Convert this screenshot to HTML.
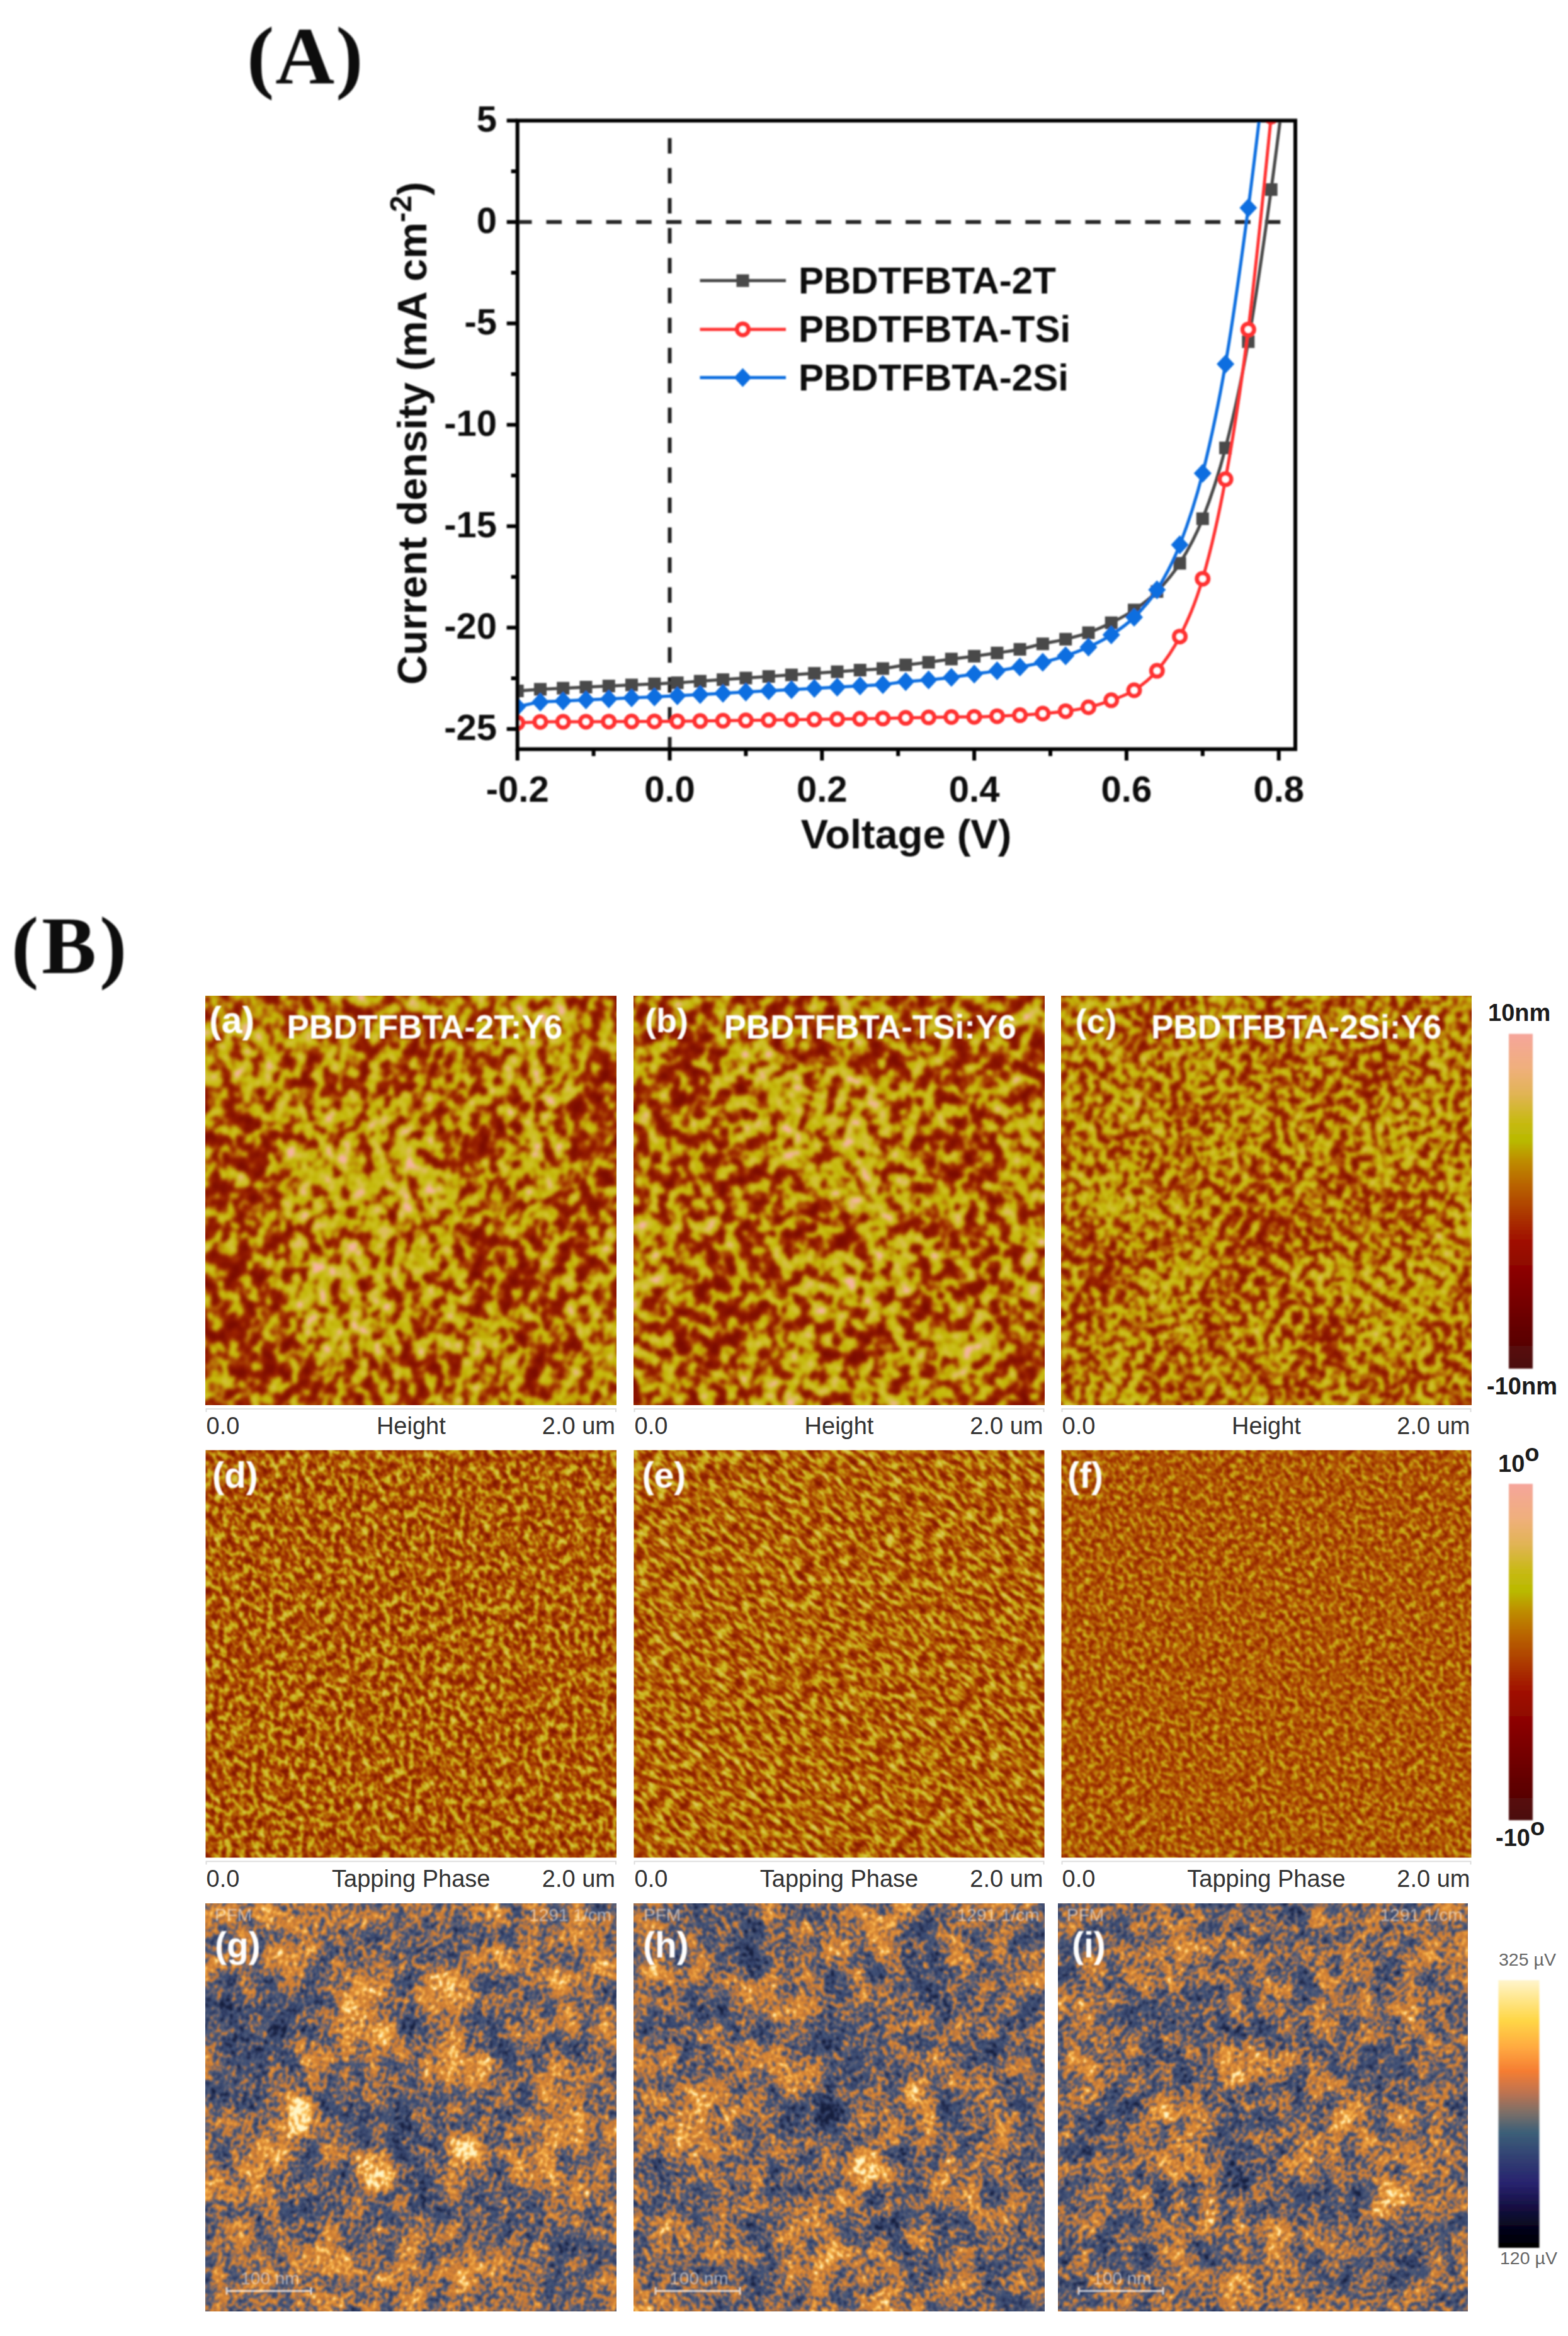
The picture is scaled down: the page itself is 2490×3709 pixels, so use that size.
<!DOCTYPE html>
<html lang="en"><head><meta charset="utf-8"><title>Figure</title>
<style>
html,body{margin:0;padding:0;background:#fff}
body{width:2490px;height:3709px;overflow:hidden}
svg{display:block}
</style></head><body>
<svg width="2490" height="3709" viewBox="0 0 2490 3709">
<defs>
<filter id="bl" x="-50%" y="-50%" width="200%" height="200%"><feGaussianBlur stdDeviation="24"/></filter>
<filter id="tb" filterUnits="userSpaceOnUse" x="300" y="1570" width="2100" height="1600"><feGaussianBlur stdDeviation="1.3"/></filter>
<filter id="cbb" filterUnits="userSpaceOnUse" x="2360" y="1600" width="120" height="2020"><feGaussianBlur stdDeviation="1.2"/></filter>
<filter id="chb" filterUnits="userSpaceOnUse" x="580" y="120" width="1560" height="1280"><feGaussianBlur stdDeviation="0.8"/></filter>
<filter id="lbb" filterUnits="userSpaceOnUse" x="0" y="0" width="700" height="1620"><feGaussianBlur stdDeviation="0.8"/></filter>
<filter id="tb2" filterUnits="userSpaceOnUse" x="300" y="3000" width="2100" height="700"><feGaussianBlur stdDeviation="1.2"/></filter>
<filter id="bs" x="-50%" y="-50%" width="200%" height="200%"><feGaussianBlur stdDeviation="10"/></filter>
<filter id="fa" filterUnits="userSpaceOnUse" x="183.0" y="1436.5" width="939.6" height="939.6" color-interpolation-filters="sRGB"><feColorMatrix in="SourceGraphic" type="matrix" values="0.8 0 0 0 0.1  0.8 0 0 0 0.1  0.8 0 0 0 0.1  0 0 0 0 1" result="acc"/><feTurbulence type="fractalNoise" baseFrequency="0.05 0.045" numOctaves="2" seed="3"/><feColorMatrix type="matrix" values="1 0 0 0 0  1 0 0 0 0  1 0 0 0 0  0 0 0 0 1" result="t"/><feComposite in="acc" in2="t" operator="arithmetic" k1="0" k2="1" k3="1.5" k4="-0.75" result="acc"/><feTurbulence type="fractalNoise" baseFrequency="0.012" numOctaves="2" seed="4"/><feColorMatrix type="matrix" values="1 0 0 0 0  1 0 0 0 0  1 0 0 0 0  0 0 0 0 1" result="t"/><feComposite in="acc" in2="t" operator="arithmetic" k1="0" k2="1" k3="0.35" k4="-0.175" result="acc"/><feComponentTransfer><feFuncR type="table" tableValues="0.490 0.498 0.505 0.513 0.520 0.527 0.535 0.542 0.550 0.557 0.565 0.575 0.586 0.597 0.607 0.624 0.643 0.663 0.682 0.702 0.722 0.739 0.745 0.752 0.758 0.765 0.772 0.779 0.786 0.794 0.801 0.808 0.816 0.823 0.833 0.847 0.861 0.876 0.903 0.934 0.965"/><feFuncG type="table" tableValues="0.047 0.052 0.056 0.061 0.066 0.071 0.075 0.080 0.085 0.089 0.094 0.105 0.116 0.126 0.137 0.169 0.216 0.262 0.318 0.386 0.455 0.521 0.578 0.634 0.691 0.718 0.725 0.732 0.739 0.745 0.747 0.749 0.750 0.752 0.751 0.747 0.742 0.738 0.728 0.717 0.706"/><feFuncB type="table" tableValues="0.000 0.000 0.000 0.000 0.000 0.000 0.000 0.000 0.000 0.000 0.000 0.000 0.000 0.000 0.000 0.004 0.010 0.016 0.022 0.028 0.034 0.038 0.034 0.030 0.025 0.033 0.049 0.065 0.081 0.100 0.127 0.155 0.183 0.211 0.246 0.292 0.337 0.383 0.459 0.543 0.627"/></feComponentTransfer><feGaussianBlur stdDeviation="2.6"/></filter>
<clipPath id="ca"><rect x="326.5" y="1581.5" width="652.5" height="649.5"/></clipPath>
<filter id="fb" filterUnits="userSpaceOnUse" x="863.1" y="1436.8" width="938.9" height="938.9" color-interpolation-filters="sRGB"><feColorMatrix in="SourceGraphic" type="matrix" values="0.8 0 0 0 0.1  0.8 0 0 0 0.1  0.8 0 0 0 0.1  0 0 0 0 1" result="acc"/><feTurbulence type="fractalNoise" baseFrequency="0.05 0.045" numOctaves="2" seed="11"/><feColorMatrix type="matrix" values="1 0 0 0 0  1 0 0 0 0  1 0 0 0 0  0 0 0 0 1" result="t"/><feComposite in="acc" in2="t" operator="arithmetic" k1="0" k2="1" k3="1.5" k4="-0.75" result="acc"/><feTurbulence type="fractalNoise" baseFrequency="0.012" numOctaves="2" seed="12"/><feColorMatrix type="matrix" values="1 0 0 0 0  1 0 0 0 0  1 0 0 0 0  0 0 0 0 1" result="t"/><feComposite in="acc" in2="t" operator="arithmetic" k1="0" k2="1" k3="0.35" k4="-0.175" result="acc"/><feComponentTransfer><feFuncR type="table" tableValues="0.490 0.498 0.505 0.513 0.520 0.527 0.535 0.542 0.550 0.557 0.565 0.575 0.586 0.597 0.607 0.624 0.643 0.663 0.682 0.702 0.722 0.739 0.745 0.752 0.758 0.765 0.772 0.779 0.786 0.794 0.801 0.808 0.816 0.823 0.833 0.847 0.861 0.876 0.903 0.934 0.965"/><feFuncG type="table" tableValues="0.047 0.052 0.056 0.061 0.066 0.071 0.075 0.080 0.085 0.089 0.094 0.105 0.116 0.126 0.137 0.169 0.216 0.262 0.318 0.386 0.455 0.521 0.578 0.634 0.691 0.718 0.725 0.732 0.739 0.745 0.747 0.749 0.750 0.752 0.751 0.747 0.742 0.738 0.728 0.717 0.706"/><feFuncB type="table" tableValues="0.000 0.000 0.000 0.000 0.000 0.000 0.000 0.000 0.000 0.000 0.000 0.000 0.000 0.000 0.000 0.004 0.010 0.016 0.022 0.028 0.034 0.038 0.034 0.030 0.025 0.033 0.049 0.065 0.081 0.100 0.127 0.155 0.183 0.211 0.246 0.292 0.337 0.383 0.459 0.543 0.627"/></feComponentTransfer><feGaussianBlur stdDeviation="2.6"/></filter>
<clipPath id="cb"><rect x="1006.5" y="1581.5" width="652.0" height="649.5"/></clipPath>
<filter id="fc" filterUnits="userSpaceOnUse" x="1542.3" y="1437.5" width="937.4" height="937.4" color-interpolation-filters="sRGB"><feColorMatrix in="SourceGraphic" type="matrix" values="0.8 0 0 0 0.1  0.8 0 0 0 0.1  0.8 0 0 0 0.1  0 0 0 0 1" result="acc"/><feTurbulence type="fractalNoise" baseFrequency="0.075 0.07" numOctaves="2" seed="23"/><feColorMatrix type="matrix" values="1 0 0 0 0  1 0 0 0 0  1 0 0 0 0  0 0 0 0 1" result="t"/><feComposite in="acc" in2="t" operator="arithmetic" k1="0" k2="1" k3="1.15" k4="-0.575" result="acc"/><feTurbulence type="fractalNoise" baseFrequency="0.012" numOctaves="2" seed="24"/><feColorMatrix type="matrix" values="1 0 0 0 0  1 0 0 0 0  1 0 0 0 0  0 0 0 0 1" result="t"/><feComposite in="acc" in2="t" operator="arithmetic" k1="0" k2="1" k3="0.35" k4="-0.175" result="acc"/><feComponentTransfer><feFuncR type="table" tableValues="0.490 0.498 0.505 0.513 0.520 0.527 0.535 0.542 0.550 0.557 0.565 0.575 0.586 0.597 0.607 0.624 0.643 0.663 0.682 0.702 0.722 0.739 0.745 0.752 0.758 0.765 0.772 0.779 0.786 0.794 0.801 0.808 0.816 0.823 0.833 0.847 0.861 0.876 0.903 0.934 0.965"/><feFuncG type="table" tableValues="0.047 0.052 0.056 0.061 0.066 0.071 0.075 0.080 0.085 0.089 0.094 0.105 0.116 0.126 0.137 0.169 0.216 0.262 0.318 0.386 0.455 0.521 0.578 0.634 0.691 0.718 0.725 0.732 0.739 0.745 0.747 0.749 0.750 0.752 0.751 0.747 0.742 0.738 0.728 0.717 0.706"/><feFuncB type="table" tableValues="0.000 0.000 0.000 0.000 0.000 0.000 0.000 0.000 0.000 0.000 0.000 0.000 0.000 0.000 0.000 0.004 0.010 0.016 0.022 0.028 0.034 0.038 0.034 0.030 0.025 0.033 0.049 0.065 0.081 0.100 0.127 0.155 0.183 0.211 0.246 0.292 0.337 0.383 0.459 0.543 0.627"/></feComponentTransfer><feGaussianBlur stdDeviation="2.6"/></filter>
<clipPath id="cc"><rect x="1685.5" y="1581.5" width="651.0" height="649.5"/></clipPath>
<filter id="fd" filterUnits="userSpaceOnUse" x="183.0" y="2156.2" width="939.6" height="939.6" color-interpolation-filters="sRGB"><feColorMatrix in="SourceGraphic" type="matrix" values="1 0 0 0 0  1 0 0 0 0  1 0 0 0 0  0 0 0 0 1" result="acc"/><feTurbulence type="fractalNoise" baseFrequency="0.11 0.075" numOctaves="3" seed="5"/><feColorMatrix type="matrix" values="1 0 0 0 0  1 0 0 0 0  1 0 0 0 0  0 0 0 0 1" result="t"/><feComposite in="acc" in2="t" operator="arithmetic" k1="0" k2="1" k3="1.7" k4="-0.85" result="acc"/><feComponentTransfer><feFuncR type="table" tableValues="0.510 0.518 0.527 0.535 0.544 0.552 0.561 0.569 0.578 0.586 0.595 0.603 0.612 0.622 0.631 0.641 0.651 0.661 0.671 0.680 0.690 0.702 0.714 0.725 0.737 0.746 0.755 0.764 0.773 0.778 0.784 0.790 0.796 0.800 0.804 0.808 0.812 0.819 0.833 0.848 0.863"/><feFuncG type="table" tableValues="0.086 0.093 0.101 0.108 0.115 0.122 0.129 0.137 0.144 0.151 0.158 0.165 0.173 0.191 0.210 0.228 0.247 0.266 0.284 0.303 0.322 0.359 0.396 0.433 0.471 0.506 0.541 0.576 0.612 0.635 0.659 0.682 0.706 0.714 0.722 0.730 0.739 0.748 0.760 0.772 0.784"/><feFuncB type="table" tableValues="0.000 0.000 0.000 0.000 0.000 0.000 0.000 0.000 0.000 0.000 0.000 0.000 0.000 0.002 0.004 0.006 0.008 0.010 0.012 0.014 0.016 0.022 0.027 0.033 0.039 0.047 0.055 0.063 0.071 0.080 0.090 0.100 0.110 0.124 0.138 0.151 0.165 0.188 0.243 0.298 0.353"/></feComponentTransfer><feGaussianBlur stdDeviation="1.7"/></filter>
<clipPath id="cd"><rect x="326.5" y="2302.5" width="652.5" height="647.0"/></clipPath>
<filter id="fe" filterUnits="userSpaceOnUse" x="863.1" y="2156.6" width="938.9" height="938.9" color-interpolation-filters="sRGB"><feColorMatrix in="SourceGraphic" type="matrix" values="1 0 0 0 0.03  1 0 0 0 0.03  1 0 0 0 0.03  0 0 0 0 1" result="acc"/><feTurbulence type="fractalNoise" baseFrequency="0.13 0.055" numOctaves="3" seed="8"/><feColorMatrix type="matrix" values="1 0 0 0 0  1 0 0 0 0  1 0 0 0 0  0 0 0 0 1" result="t"/><feComposite in="acc" in2="t" operator="arithmetic" k1="0" k2="1" k3="1.7" k4="-0.85" result="acc"/><feComponentTransfer><feFuncR type="table" tableValues="0.510 0.518 0.527 0.535 0.544 0.552 0.561 0.569 0.578 0.586 0.595 0.603 0.612 0.622 0.631 0.641 0.651 0.661 0.671 0.680 0.690 0.702 0.714 0.725 0.737 0.746 0.755 0.764 0.773 0.778 0.784 0.790 0.796 0.800 0.804 0.808 0.812 0.819 0.833 0.848 0.863"/><feFuncG type="table" tableValues="0.086 0.093 0.101 0.108 0.115 0.122 0.129 0.137 0.144 0.151 0.158 0.165 0.173 0.191 0.210 0.228 0.247 0.266 0.284 0.303 0.322 0.359 0.396 0.433 0.471 0.506 0.541 0.576 0.612 0.635 0.659 0.682 0.706 0.714 0.722 0.730 0.739 0.748 0.760 0.772 0.784"/><feFuncB type="table" tableValues="0.000 0.000 0.000 0.000 0.000 0.000 0.000 0.000 0.000 0.000 0.000 0.000 0.000 0.002 0.004 0.006 0.008 0.010 0.012 0.014 0.016 0.022 0.027 0.033 0.039 0.047 0.055 0.063 0.071 0.080 0.090 0.100 0.110 0.124 0.138 0.151 0.165 0.188 0.243 0.298 0.353"/></feComponentTransfer><feGaussianBlur stdDeviation="1.7"/></filter>
<clipPath id="ce"><rect x="1006.5" y="2302.5" width="652.0" height="647.0"/></clipPath>
<filter id="ff" filterUnits="userSpaceOnUse" x="1542.3" y="2157.3" width="937.4" height="937.4" color-interpolation-filters="sRGB"><feColorMatrix in="SourceGraphic" type="matrix" values="1 0 0 0 0  1 0 0 0 0  1 0 0 0 0  0 0 0 0 1" result="acc"/><feTurbulence type="fractalNoise" baseFrequency="0.14 0.1" numOctaves="3" seed="14"/><feColorMatrix type="matrix" values="1 0 0 0 0  1 0 0 0 0  1 0 0 0 0  0 0 0 0 1" result="t"/><feComposite in="acc" in2="t" operator="arithmetic" k1="0" k2="1" k3="1.15" k4="-0.575" result="acc"/><feComponentTransfer><feFuncR type="table" tableValues="0.510 0.518 0.527 0.535 0.544 0.552 0.561 0.569 0.578 0.586 0.595 0.603 0.612 0.622 0.631 0.641 0.651 0.661 0.671 0.680 0.690 0.702 0.714 0.725 0.737 0.746 0.755 0.764 0.773 0.778 0.784 0.790 0.796 0.800 0.804 0.808 0.812 0.819 0.833 0.848 0.863"/><feFuncG type="table" tableValues="0.086 0.093 0.101 0.108 0.115 0.122 0.129 0.137 0.144 0.151 0.158 0.165 0.173 0.191 0.210 0.228 0.247 0.266 0.284 0.303 0.322 0.359 0.396 0.433 0.471 0.506 0.541 0.576 0.612 0.635 0.659 0.682 0.706 0.714 0.722 0.730 0.739 0.748 0.760 0.772 0.784"/><feFuncB type="table" tableValues="0.000 0.000 0.000 0.000 0.000 0.000 0.000 0.000 0.000 0.000 0.000 0.000 0.000 0.002 0.004 0.006 0.008 0.010 0.012 0.014 0.016 0.022 0.027 0.033 0.039 0.047 0.055 0.063 0.071 0.080 0.090 0.100 0.110 0.124 0.138 0.151 0.165 0.188 0.243 0.298 0.353"/></feComponentTransfer><feGaussianBlur stdDeviation="1.7"/></filter>
<clipPath id="cf"><rect x="1685.5" y="2302.5" width="651.0" height="647.0"/></clipPath>
<filter id="fg" filterUnits="userSpaceOnUse" x="183.0" y="2876.2" width="939.6" height="939.6" color-interpolation-filters="sRGB"><feColorMatrix in="SourceGraphic" type="matrix" values="1 0 0 0 -0.025  1 0 0 0 -0.025  1 0 0 0 -0.025  0 0 0 0 1" result="acc"/><feTurbulence type="fractalNoise" baseFrequency="0.014" numOctaves="2" seed="31"/><feColorMatrix type="matrix" values="1 0 0 0 0  1 0 0 0 0  1 0 0 0 0  0 0 0 0 1" result="t"/><feComposite in="acc" in2="t" operator="arithmetic" k1="0" k2="1" k3="0.45" k4="-0.225" result="acc"/><feTurbulence type="fractalNoise" baseFrequency="0.03" numOctaves="2" seed="51"/><feColorMatrix type="matrix" values="1 0 0 0 0  1 0 0 0 0  1 0 0 0 0  0 0 0 0 1" result="t"/><feComposite in="acc" in2="t" operator="arithmetic" k1="0" k2="1" k3="0.75" k4="-0.375" result="acc"/><feTurbulence type="fractalNoise" baseFrequency="0.14 0.12" numOctaves="2" seed="81"/><feColorMatrix type="matrix" values="1 0 0 0 0  1 0 0 0 0  1 0 0 0 0  0 0 0 0 1" result="t"/><feComposite in="acc" in2="t" operator="arithmetic" k1="0" k2="1" k3="0.95" k4="-0.475" result="acc"/><feComponentTransfer><feFuncR type="table" tableValues="0.086 0.101 0.116 0.130 0.145 0.160 0.175 0.189 0.204 0.215 0.226 0.237 0.247 0.258 0.269 0.280 0.328 0.384 0.441 0.502 0.580 0.659 0.737 0.778 0.794 0.810 0.826 0.842 0.858 0.875 0.896 0.917 0.938 0.959 0.980 0.990 0.993 0.996 0.999 1.000 1.000"/><feFuncG type="table" tableValues="0.118 0.135 0.153 0.171 0.188 0.206 0.224 0.241 0.259 0.271 0.283 0.295 0.307 0.319 0.331 0.343 0.361 0.380 0.400 0.418 0.431 0.444 0.458 0.471 0.484 0.498 0.511 0.525 0.538 0.555 0.588 0.620 0.652 0.684 0.717 0.756 0.802 0.847 0.892 0.929 0.961"/><feFuncB type="table" tableValues="0.243 0.265 0.286 0.308 0.329 0.351 0.373 0.394 0.416 0.424 0.433 0.442 0.451 0.459 0.468 0.477 0.464 0.447 0.430 0.404 0.345 0.286 0.227 0.205 0.206 0.207 0.208 0.210 0.211 0.215 0.232 0.249 0.266 0.282 0.299 0.357 0.442 0.528 0.613 0.699 0.784"/></feComponentTransfer><feGaussianBlur stdDeviation="1.7"/></filter>
<clipPath id="cg"><rect x="326.5" y="3022.0" width="652.5" height="648.0"/></clipPath>
<filter id="fh" filterUnits="userSpaceOnUse" x="863.1" y="2876.6" width="938.9" height="938.9" color-interpolation-filters="sRGB"><feColorMatrix in="SourceGraphic" type="matrix" values="1 0 0 0 -0.025  1 0 0 0 -0.025  1 0 0 0 -0.025  0 0 0 0 1" result="acc"/><feTurbulence type="fractalNoise" baseFrequency="0.014" numOctaves="2" seed="38"/><feColorMatrix type="matrix" values="1 0 0 0 0  1 0 0 0 0  1 0 0 0 0  0 0 0 0 1" result="t"/><feComposite in="acc" in2="t" operator="arithmetic" k1="0" k2="1" k3="0.45" k4="-0.225" result="acc"/><feTurbulence type="fractalNoise" baseFrequency="0.03" numOctaves="2" seed="58"/><feColorMatrix type="matrix" values="1 0 0 0 0  1 0 0 0 0  1 0 0 0 0  0 0 0 0 1" result="t"/><feComposite in="acc" in2="t" operator="arithmetic" k1="0" k2="1" k3="0.75" k4="-0.375" result="acc"/><feTurbulence type="fractalNoise" baseFrequency="0.14 0.12" numOctaves="2" seed="88"/><feColorMatrix type="matrix" values="1 0 0 0 0  1 0 0 0 0  1 0 0 0 0  0 0 0 0 1" result="t"/><feComposite in="acc" in2="t" operator="arithmetic" k1="0" k2="1" k3="0.95" k4="-0.475" result="acc"/><feComponentTransfer><feFuncR type="table" tableValues="0.086 0.101 0.116 0.130 0.145 0.160 0.175 0.189 0.204 0.215 0.226 0.237 0.247 0.258 0.269 0.280 0.328 0.384 0.441 0.502 0.580 0.659 0.737 0.778 0.794 0.810 0.826 0.842 0.858 0.875 0.896 0.917 0.938 0.959 0.980 0.990 0.993 0.996 0.999 1.000 1.000"/><feFuncG type="table" tableValues="0.118 0.135 0.153 0.171 0.188 0.206 0.224 0.241 0.259 0.271 0.283 0.295 0.307 0.319 0.331 0.343 0.361 0.380 0.400 0.418 0.431 0.444 0.458 0.471 0.484 0.498 0.511 0.525 0.538 0.555 0.588 0.620 0.652 0.684 0.717 0.756 0.802 0.847 0.892 0.929 0.961"/><feFuncB type="table" tableValues="0.243 0.265 0.286 0.308 0.329 0.351 0.373 0.394 0.416 0.424 0.433 0.442 0.451 0.459 0.468 0.477 0.464 0.447 0.430 0.404 0.345 0.286 0.227 0.205 0.206 0.207 0.208 0.210 0.211 0.215 0.232 0.249 0.266 0.282 0.299 0.357 0.442 0.528 0.613 0.699 0.784"/></feComponentTransfer><feGaussianBlur stdDeviation="1.7"/></filter>
<clipPath id="ch"><rect x="1006.5" y="3022.0" width="652.0" height="648.0"/></clipPath>
<filter id="fi" filterUnits="userSpaceOnUse" x="1536.9" y="2877.6" width="936.7" height="936.7" color-interpolation-filters="sRGB"><feColorMatrix in="SourceGraphic" type="matrix" values="1 0 0 0 -0.025  1 0 0 0 -0.025  1 0 0 0 -0.025  0 0 0 0 1" result="acc"/><feTurbulence type="fractalNoise" baseFrequency="0.014" numOctaves="2" seed="45"/><feColorMatrix type="matrix" values="1 0 0 0 0  1 0 0 0 0  1 0 0 0 0  0 0 0 0 1" result="t"/><feComposite in="acc" in2="t" operator="arithmetic" k1="0" k2="1" k3="0.45" k4="-0.225" result="acc"/><feTurbulence type="fractalNoise" baseFrequency="0.03" numOctaves="2" seed="65"/><feColorMatrix type="matrix" values="1 0 0 0 0  1 0 0 0 0  1 0 0 0 0  0 0 0 0 1" result="t"/><feComposite in="acc" in2="t" operator="arithmetic" k1="0" k2="1" k3="0.75" k4="-0.375" result="acc"/><feTurbulence type="fractalNoise" baseFrequency="0.14 0.12" numOctaves="2" seed="95"/><feColorMatrix type="matrix" values="1 0 0 0 0  1 0 0 0 0  1 0 0 0 0  0 0 0 0 1" result="t"/><feComposite in="acc" in2="t" operator="arithmetic" k1="0" k2="1" k3="0.95" k4="-0.475" result="acc"/><feComponentTransfer><feFuncR type="table" tableValues="0.086 0.101 0.116 0.130 0.145 0.160 0.175 0.189 0.204 0.215 0.226 0.237 0.247 0.258 0.269 0.280 0.328 0.384 0.441 0.502 0.580 0.659 0.737 0.778 0.794 0.810 0.826 0.842 0.858 0.875 0.896 0.917 0.938 0.959 0.980 0.990 0.993 0.996 0.999 1.000 1.000"/><feFuncG type="table" tableValues="0.118 0.135 0.153 0.171 0.188 0.206 0.224 0.241 0.259 0.271 0.283 0.295 0.307 0.319 0.331 0.343 0.361 0.380 0.400 0.418 0.431 0.444 0.458 0.471 0.484 0.498 0.511 0.525 0.538 0.555 0.588 0.620 0.652 0.684 0.717 0.756 0.802 0.847 0.892 0.929 0.961"/><feFuncB type="table" tableValues="0.243 0.265 0.286 0.308 0.329 0.351 0.373 0.394 0.416 0.424 0.433 0.442 0.451 0.459 0.468 0.477 0.464 0.447 0.430 0.404 0.345 0.286 0.227 0.205 0.206 0.207 0.208 0.210 0.211 0.215 0.232 0.249 0.266 0.282 0.299 0.357 0.442 0.528 0.613 0.699 0.784"/></feComponentTransfer><feGaussianBlur stdDeviation="1.7"/></filter>
<clipPath id="ci"><rect x="1680.0" y="3022.0" width="650.5" height="648.0"/></clipPath>
<linearGradient id="g1" x1="0" y1="1" x2="0" y2="0"><stop offset="0.000" stop-color="rgb(75,10,10)"/><stop offset="0.100" stop-color="rgb(95,5,5)"/><stop offset="0.250" stop-color="rgb(130,0,0)"/><stop offset="0.380" stop-color="rgb(160,15,0)"/><stop offset="0.480" stop-color="rgb(175,65,5)"/><stop offset="0.550" stop-color="rgb(185,100,5)"/><stop offset="0.620" stop-color="rgb(190,140,0)"/><stop offset="0.680" stop-color="rgb(185,185,0)"/><stop offset="0.740" stop-color="rgb(200,185,20)"/><stop offset="0.820" stop-color="rgb(225,180,85)"/><stop offset="0.900" stop-color="rgb(240,175,125)"/><stop offset="1.000" stop-color="rgb(245,165,155)"/></linearGradient>
<linearGradient id="g3" x1="0" y1="1" x2="0" y2="0"><stop offset="0.000" stop-color="rgb(0,0,0)"/><stop offset="0.070" stop-color="rgb(5,5,25)"/><stop offset="0.150" stop-color="rgb(20,15,65)"/><stop offset="0.240" stop-color="rgb(40,35,110)"/><stop offset="0.340" stop-color="rgb(50,65,115)"/><stop offset="0.430" stop-color="rgb(60,95,120)"/><stop offset="0.500" stop-color="rgb(120,110,105)"/><stop offset="0.580" stop-color="rgb(190,115,80)"/><stop offset="0.660" stop-color="rgb(245,125,50)"/><stop offset="0.750" stop-color="rgb(255,170,65)"/><stop offset="0.850" stop-color="rgb(255,215,70)"/><stop offset="0.930" stop-color="rgb(255,230,140)"/><stop offset="1.000" stop-color="rgb(255,245,205)"/></linearGradient>
</defs>
<rect width="2490" height="3709" fill="#fff"/>
<g font-family="Liberation Serif, Times New Roman, serif" font-weight="bold" font-size="130" fill="#111" filter="url(#lbb)">
<text x="392" y="132" letter-spacing="2">(A)</text><text x="18" y="1545" letter-spacing="5">(B)</text></g>
<g id="chart" filter="url(#chb)">
<clipPath id="pc"><rect x="821.7" y="191.5" width="1235.3" height="998.0"/></clipPath>
<path d="M820 352.5 H2034 M1063.5 219.3 V1189.5" stroke="#222" stroke-width="6" stroke-dasharray="24.5 23.05" fill="none"/>
<g clip-path="url(#pc)">
<path d="M821.7 1097.0 C827.7 1096.5 845.9 1095.1 858.0 1094.4 C870.1 1093.7 882.1 1093.2 894.2 1092.7 C906.3 1092.1 918.4 1091.5 930.5 1091.0 C942.6 1090.4 954.7 1089.8 966.8 1089.2 C978.9 1088.7 991.0 1088.1 1003.0 1087.5 C1015.1 1086.9 1027.2 1086.4 1039.3 1085.8 C1051.4 1085.2 1063.5 1084.8 1075.6 1084.1 C1087.7 1083.4 1099.8 1082.4 1111.9 1081.6 C1123.9 1080.7 1136.0 1079.9 1148.1 1079.1 C1160.2 1078.2 1172.3 1077.4 1184.4 1076.6 C1196.5 1075.7 1208.6 1074.9 1220.7 1074.1 C1232.8 1073.2 1244.9 1072.4 1256.9 1071.6 C1269.0 1070.7 1281.1 1069.9 1293.2 1069.1 C1305.3 1068.2 1317.4 1067.4 1329.5 1066.6 C1341.6 1065.7 1353.7 1064.9 1365.8 1064.0 C1377.8 1063.2 1389.9 1062.9 1402.0 1061.5 C1414.1 1060.2 1426.2 1057.4 1438.3 1055.7 C1450.4 1054.1 1462.5 1053.1 1474.6 1051.6 C1486.6 1050.0 1498.7 1048.0 1510.8 1046.4 C1522.9 1044.8 1535.0 1043.5 1547.1 1041.9 C1559.2 1040.3 1571.3 1038.6 1583.4 1036.8 C1595.5 1034.9 1607.5 1033.4 1619.6 1031.0 C1631.7 1028.5 1643.8 1024.9 1655.9 1022.3 C1668.0 1019.6 1680.1 1017.8 1692.2 1014.9 C1704.3 1011.9 1716.4 1008.9 1728.5 1004.6 C1740.5 1000.2 1752.6 994.8 1764.7 988.8 C1776.8 982.8 1788.9 976.8 1801.0 968.5 C1813.1 960.2 1825.2 951.5 1837.3 939.2 C1849.3 926.8 1861.4 913.7 1873.5 894.4 C1885.6 875.2 1897.7 854.1 1909.8 823.6 C1921.9 793.0 1934.0 758.1 1946.1 711.2 C1958.2 664.4 1970.2 610.9 1982.3 542.5 C1994.4 474.1 2006.5 389.0 2018.6 301.0 C2030.7 213.0 2048.8 62.2 2054.9 14.4" stroke="#4a4a4a" stroke-width="5" fill="none"/>
<rect x="811.7" y="1087.0" width="20" height="20" fill="#4a4a4a"/><rect x="848.0" y="1084.4" width="20" height="20" fill="#4a4a4a"/><rect x="884.2" y="1082.7" width="20" height="20" fill="#4a4a4a"/><rect x="920.5" y="1081.0" width="20" height="20" fill="#4a4a4a"/><rect x="956.8" y="1079.2" width="20" height="20" fill="#4a4a4a"/><rect x="993.0" y="1077.5" width="20" height="20" fill="#4a4a4a"/><rect x="1029.3" y="1075.8" width="20" height="20" fill="#4a4a4a"/><rect x="1065.6" y="1074.1" width="20" height="20" fill="#4a4a4a"/><rect x="1101.9" y="1071.6" width="20" height="20" fill="#4a4a4a"/><rect x="1138.1" y="1069.1" width="20" height="20" fill="#4a4a4a"/><rect x="1174.4" y="1066.6" width="20" height="20" fill="#4a4a4a"/><rect x="1210.7" y="1064.1" width="20" height="20" fill="#4a4a4a"/><rect x="1246.9" y="1061.6" width="20" height="20" fill="#4a4a4a"/><rect x="1283.2" y="1059.1" width="20" height="20" fill="#4a4a4a"/><rect x="1319.5" y="1056.6" width="20" height="20" fill="#4a4a4a"/><rect x="1355.8" y="1054.0" width="20" height="20" fill="#4a4a4a"/><rect x="1392.0" y="1051.5" width="20" height="20" fill="#4a4a4a"/><rect x="1428.3" y="1045.7" width="20" height="20" fill="#4a4a4a"/><rect x="1464.6" y="1041.6" width="20" height="20" fill="#4a4a4a"/><rect x="1500.8" y="1036.4" width="20" height="20" fill="#4a4a4a"/><rect x="1537.1" y="1031.9" width="20" height="20" fill="#4a4a4a"/><rect x="1573.4" y="1026.8" width="20" height="20" fill="#4a4a4a"/><rect x="1609.6" y="1021.0" width="20" height="20" fill="#4a4a4a"/><rect x="1645.9" y="1012.3" width="20" height="20" fill="#4a4a4a"/><rect x="1682.2" y="1004.9" width="20" height="20" fill="#4a4a4a"/><rect x="1718.5" y="994.6" width="20" height="20" fill="#4a4a4a"/><rect x="1754.7" y="978.8" width="20" height="20" fill="#4a4a4a"/><rect x="1791.0" y="958.5" width="20" height="20" fill="#4a4a4a"/><rect x="1827.3" y="929.2" width="20" height="20" fill="#4a4a4a"/><rect x="1863.5" y="884.4" width="20" height="20" fill="#4a4a4a"/><rect x="1899.8" y="813.6" width="20" height="20" fill="#4a4a4a"/><rect x="1936.1" y="701.2" width="20" height="20" fill="#4a4a4a"/><rect x="1972.3" y="532.5" width="20" height="20" fill="#4a4a4a"/><rect x="2008.6" y="291.0" width="20" height="20" fill="#4a4a4a"/>
<path d="M821.7 1147.8 C827.7 1147.6 845.9 1146.5 858.0 1146.2 C870.1 1145.9 882.1 1146.1 894.2 1146.1 C906.3 1146.0 918.4 1146.0 930.5 1145.9 C942.6 1145.9 954.7 1145.8 966.8 1145.7 C978.9 1145.7 991.0 1145.6 1003.0 1145.6 C1015.1 1145.5 1027.2 1145.5 1039.3 1145.4 C1051.4 1145.4 1063.5 1145.4 1075.6 1145.3 C1087.7 1145.2 1099.8 1144.9 1111.9 1144.8 C1123.9 1144.6 1136.0 1144.4 1148.1 1144.3 C1160.2 1144.1 1172.3 1143.9 1184.4 1143.8 C1196.5 1143.6 1208.6 1143.4 1220.7 1143.3 C1232.8 1143.1 1244.9 1142.9 1256.9 1142.8 C1269.0 1142.6 1281.1 1142.4 1293.2 1142.3 C1305.3 1142.1 1317.4 1141.9 1329.5 1141.8 C1341.6 1141.6 1353.7 1141.4 1365.8 1141.3 C1377.8 1141.1 1389.9 1141.0 1402.0 1140.8 C1414.1 1140.5 1426.2 1140.1 1438.3 1139.8 C1450.4 1139.5 1462.5 1139.4 1474.6 1139.1 C1486.6 1138.9 1498.7 1138.7 1510.8 1138.5 C1522.9 1138.3 1535.0 1138.4 1547.1 1138.2 C1559.2 1138.0 1571.3 1137.6 1583.4 1137.2 C1595.5 1136.8 1607.5 1136.3 1619.6 1135.6 C1631.7 1134.9 1643.8 1134.1 1655.9 1133.0 C1668.0 1132.0 1680.1 1130.8 1692.2 1129.2 C1704.3 1127.5 1716.4 1125.9 1728.5 1123.0 C1740.5 1120.1 1752.6 1116.3 1764.7 1111.8 C1776.8 1107.3 1788.9 1103.8 1801.0 1096.0 C1813.1 1088.2 1825.2 1079.3 1837.3 1065.1 C1849.3 1050.9 1861.4 1035.0 1873.5 1010.7 C1885.6 986.3 1897.7 960.5 1909.8 918.9 C1921.9 877.3 1934.0 826.8 1946.1 760.8 C1958.2 694.8 1970.2 619.1 1982.3 523.2 C1994.4 427.2 2006.5 304.7 2018.6 185.1 C2030.7 65.4 2048.8 -131.6 2054.9 -194.9" stroke="#ff3030" stroke-width="5" fill="none"/>
<circle cx="821.7" cy="1147.8" r="9" fill="#fff" stroke="#ff3030" stroke-width="7"/><circle cx="858.0" cy="1146.2" r="9" fill="#fff" stroke="#ff3030" stroke-width="7"/><circle cx="894.2" cy="1146.1" r="9" fill="#fff" stroke="#ff3030" stroke-width="7"/><circle cx="930.5" cy="1145.9" r="9" fill="#fff" stroke="#ff3030" stroke-width="7"/><circle cx="966.8" cy="1145.7" r="9" fill="#fff" stroke="#ff3030" stroke-width="7"/><circle cx="1003.0" cy="1145.6" r="9" fill="#fff" stroke="#ff3030" stroke-width="7"/><circle cx="1039.3" cy="1145.4" r="9" fill="#fff" stroke="#ff3030" stroke-width="7"/><circle cx="1075.6" cy="1145.3" r="9" fill="#fff" stroke="#ff3030" stroke-width="7"/><circle cx="1111.9" cy="1144.8" r="9" fill="#fff" stroke="#ff3030" stroke-width="7"/><circle cx="1148.1" cy="1144.3" r="9" fill="#fff" stroke="#ff3030" stroke-width="7"/><circle cx="1184.4" cy="1143.8" r="9" fill="#fff" stroke="#ff3030" stroke-width="7"/><circle cx="1220.7" cy="1143.3" r="9" fill="#fff" stroke="#ff3030" stroke-width="7"/><circle cx="1256.9" cy="1142.8" r="9" fill="#fff" stroke="#ff3030" stroke-width="7"/><circle cx="1293.2" cy="1142.3" r="9" fill="#fff" stroke="#ff3030" stroke-width="7"/><circle cx="1329.5" cy="1141.8" r="9" fill="#fff" stroke="#ff3030" stroke-width="7"/><circle cx="1365.8" cy="1141.3" r="9" fill="#fff" stroke="#ff3030" stroke-width="7"/><circle cx="1402.0" cy="1140.8" r="9" fill="#fff" stroke="#ff3030" stroke-width="7"/><circle cx="1438.3" cy="1139.8" r="9" fill="#fff" stroke="#ff3030" stroke-width="7"/><circle cx="1474.6" cy="1139.1" r="9" fill="#fff" stroke="#ff3030" stroke-width="7"/><circle cx="1510.8" cy="1138.5" r="9" fill="#fff" stroke="#ff3030" stroke-width="7"/><circle cx="1547.1" cy="1138.2" r="9" fill="#fff" stroke="#ff3030" stroke-width="7"/><circle cx="1583.4" cy="1137.2" r="9" fill="#fff" stroke="#ff3030" stroke-width="7"/><circle cx="1619.6" cy="1135.6" r="9" fill="#fff" stroke="#ff3030" stroke-width="7"/><circle cx="1655.9" cy="1133.0" r="9" fill="#fff" stroke="#ff3030" stroke-width="7"/><circle cx="1692.2" cy="1129.2" r="9" fill="#fff" stroke="#ff3030" stroke-width="7"/><circle cx="1728.5" cy="1123.0" r="9" fill="#fff" stroke="#ff3030" stroke-width="7"/><circle cx="1764.7" cy="1111.8" r="9" fill="#fff" stroke="#ff3030" stroke-width="7"/><circle cx="1801.0" cy="1096.0" r="9" fill="#fff" stroke="#ff3030" stroke-width="7"/><circle cx="1837.3" cy="1065.1" r="9" fill="#fff" stroke="#ff3030" stroke-width="7"/><circle cx="1873.5" cy="1010.7" r="9" fill="#fff" stroke="#ff3030" stroke-width="7"/><circle cx="1909.8" cy="918.9" r="9" fill="#fff" stroke="#ff3030" stroke-width="7"/><circle cx="1946.1" cy="760.8" r="9" fill="#fff" stroke="#ff3030" stroke-width="7"/><circle cx="1982.3" cy="523.2" r="9" fill="#fff" stroke="#ff3030" stroke-width="7"/><circle cx="2018.6" cy="185.1" r="9" fill="#fff" stroke="#ff3030" stroke-width="7"/>
<path d="M821.7 1122.1 C827.7 1120.8 845.9 1116.2 858.0 1114.7 C870.1 1113.2 882.1 1113.6 894.2 1113.0 C906.3 1112.5 918.4 1111.9 930.5 1111.3 C942.6 1110.8 954.7 1110.2 966.8 1109.7 C978.9 1109.1 991.0 1108.6 1003.0 1108.0 C1015.1 1107.5 1027.2 1106.9 1039.3 1106.4 C1051.4 1105.8 1063.5 1105.3 1075.6 1104.7 C1087.7 1104.1 1099.8 1103.4 1111.9 1102.7 C1123.9 1102.1 1136.0 1101.4 1148.1 1100.8 C1160.2 1100.1 1172.3 1099.4 1184.4 1098.8 C1196.5 1098.1 1208.6 1097.5 1220.7 1096.8 C1232.8 1096.2 1244.9 1095.5 1256.9 1094.9 C1269.0 1094.2 1281.1 1093.5 1293.2 1092.9 C1305.3 1092.2 1317.4 1091.6 1329.5 1090.9 C1341.6 1090.3 1353.7 1089.6 1365.8 1088.9 C1377.8 1088.3 1389.9 1088.1 1402.0 1087.0 C1414.1 1085.8 1426.2 1083.4 1438.3 1082.2 C1450.4 1080.9 1462.5 1080.7 1474.6 1079.6 C1486.6 1078.4 1498.7 1076.9 1510.8 1075.4 C1522.9 1073.8 1535.0 1072.0 1547.1 1070.2 C1559.2 1068.5 1571.3 1067.0 1583.4 1065.1 C1595.5 1063.2 1607.5 1061.2 1619.6 1059.0 C1631.7 1056.7 1643.8 1054.5 1655.9 1051.6 C1668.0 1048.6 1680.1 1045.3 1692.2 1041.3 C1704.3 1037.2 1716.4 1032.9 1728.5 1027.4 C1740.5 1021.9 1752.6 1016.0 1764.7 1008.1 C1776.8 1000.2 1788.9 992.0 1801.0 980.1 C1813.1 968.2 1825.2 955.8 1837.3 936.6 C1849.3 917.4 1861.4 896.0 1873.5 865.1 C1885.6 834.3 1897.7 799.3 1909.8 751.5 C1921.9 703.6 1934.0 648.1 1946.1 577.9 C1958.2 507.7 1970.2 421.2 1982.3 330.0 C1994.4 238.7 2012.6 80.4 2018.6 30.5" stroke="#0a6ee0" stroke-width="5" fill="none"/>
<path d="M821.7 1107.1 l14 15 l-14 15 l-14 -15z" fill="#0a6ee0"/><path d="M858.0 1099.7 l14 15 l-14 15 l-14 -15z" fill="#0a6ee0"/><path d="M894.2 1098.0 l14 15 l-14 15 l-14 -15z" fill="#0a6ee0"/><path d="M930.5 1096.3 l14 15 l-14 15 l-14 -15z" fill="#0a6ee0"/><path d="M966.8 1094.7 l14 15 l-14 15 l-14 -15z" fill="#0a6ee0"/><path d="M1003.0 1093.0 l14 15 l-14 15 l-14 -15z" fill="#0a6ee0"/><path d="M1039.3 1091.4 l14 15 l-14 15 l-14 -15z" fill="#0a6ee0"/><path d="M1075.6 1089.7 l14 15 l-14 15 l-14 -15z" fill="#0a6ee0"/><path d="M1111.9 1087.7 l14 15 l-14 15 l-14 -15z" fill="#0a6ee0"/><path d="M1148.1 1085.8 l14 15 l-14 15 l-14 -15z" fill="#0a6ee0"/><path d="M1184.4 1083.8 l14 15 l-14 15 l-14 -15z" fill="#0a6ee0"/><path d="M1220.7 1081.8 l14 15 l-14 15 l-14 -15z" fill="#0a6ee0"/><path d="M1256.9 1079.9 l14 15 l-14 15 l-14 -15z" fill="#0a6ee0"/><path d="M1293.2 1077.9 l14 15 l-14 15 l-14 -15z" fill="#0a6ee0"/><path d="M1329.5 1075.9 l14 15 l-14 15 l-14 -15z" fill="#0a6ee0"/><path d="M1365.8 1073.9 l14 15 l-14 15 l-14 -15z" fill="#0a6ee0"/><path d="M1402.0 1072.0 l14 15 l-14 15 l-14 -15z" fill="#0a6ee0"/><path d="M1438.3 1067.2 l14 15 l-14 15 l-14 -15z" fill="#0a6ee0"/><path d="M1474.6 1064.6 l14 15 l-14 15 l-14 -15z" fill="#0a6ee0"/><path d="M1510.8 1060.4 l14 15 l-14 15 l-14 -15z" fill="#0a6ee0"/><path d="M1547.1 1055.2 l14 15 l-14 15 l-14 -15z" fill="#0a6ee0"/><path d="M1583.4 1050.1 l14 15 l-14 15 l-14 -15z" fill="#0a6ee0"/><path d="M1619.6 1044.0 l14 15 l-14 15 l-14 -15z" fill="#0a6ee0"/><path d="M1655.9 1036.6 l14 15 l-14 15 l-14 -15z" fill="#0a6ee0"/><path d="M1692.2 1026.3 l14 15 l-14 15 l-14 -15z" fill="#0a6ee0"/><path d="M1728.5 1012.4 l14 15 l-14 15 l-14 -15z" fill="#0a6ee0"/><path d="M1764.7 993.1 l14 15 l-14 15 l-14 -15z" fill="#0a6ee0"/><path d="M1801.0 965.1 l14 15 l-14 15 l-14 -15z" fill="#0a6ee0"/><path d="M1837.3 921.6 l14 15 l-14 15 l-14 -15z" fill="#0a6ee0"/><path d="M1873.5 850.1 l14 15 l-14 15 l-14 -15z" fill="#0a6ee0"/><path d="M1909.8 736.5 l14 15 l-14 15 l-14 -15z" fill="#0a6ee0"/><path d="M1946.1 562.9 l14 15 l-14 15 l-14 -15z" fill="#0a6ee0"/><path d="M1982.3 315.0 l14 15 l-14 15 l-14 -15z" fill="#0a6ee0"/>
</g>
<rect x="821.7" y="191.5" width="1235.3" height="998.0" fill="none" stroke="#000" stroke-width="6"/>
<path d="M821.7 191.5 h-17 M821.7 352.5 h-17 M821.7 513.5 h-17 M821.7 674.5 h-17 M821.7 835.5 h-17 M821.7 996.5 h-17 M821.7 1157.5 h-17 M821.7 272.0 h-10 M821.7 433.0 h-10 M821.7 594.0 h-10 M821.7 755.0 h-10 M821.7 916.0 h-10 M821.7 1077.0 h-10 M821.7 1189.5 v18 M1063.5 1189.5 v18 M1305.3 1189.5 v18 M1547.1 1189.5 v18 M1788.9 1189.5 v18 M2030.7 1189.5 v18 M942.6 1189.5 v11 M1184.4 1189.5 v11 M1426.2 1189.5 v11 M1668.0 1189.5 v11 M1909.8 1189.5 v11" stroke="#000" stroke-width="6" fill="none"/>
<g font-family="Liberation Sans, Arial, sans-serif" font-weight="bold" fill="#111">
<g font-size="58" text-anchor="end">
<text x="789" y="208.5">5</text>
<text x="789" y="369.5">0</text>
<text x="789" y="530.5">-5</text>
<text x="789" y="691.5">-10</text>
<text x="789" y="852.5">-15</text>
<text x="789" y="1013.5">-20</text>
<text x="789" y="1174.5">-25</text>
</g>
<g font-size="58" text-anchor="middle">
<text x="821.7" y="1273">-0.2</text>
<text x="1063.5" y="1273">0.0</text>
<text x="1305.3" y="1273">0.2</text>
<text x="1547.1" y="1273">0.4</text>
<text x="1788.9" y="1273">0.6</text>
<text x="2030.7" y="1273">0.8</text>
</g>
<text x="1439" y="1347" font-size="65" text-anchor="middle">Voltage (V)</text>
<text transform="translate(677 688) rotate(-90)" font-size="65" text-anchor="middle">Current density (mA cm<tspan font-size="48" dy="-24">-2</tspan><tspan dy="24">)</tspan></text>
<path d="M1111.5 445.6 H1248" stroke="#4a4a4a" stroke-width="5"/>
<rect x="1169.5" y="435.6" width="20" height="20" fill="#4a4a4a"/>
<text x="1268" y="466.1" font-size="60">PBDTFBTA-2T</text>
<path d="M1111.5 522.9 H1248" stroke="#ff3030" stroke-width="5"/>
<circle cx="1179.5" cy="522.9" r="9" fill="#fff" stroke="#ff3030" stroke-width="7"/>
<text x="1268" y="543.4" font-size="60">PBDTFBTA-TSi</text>
<path d="M1111.5 599.6 H1248" stroke="#0a6ee0" stroke-width="5"/>
<path d="M1179.5 584.6 l14 15 l-14 15 l-14 -15z" fill="#0a6ee0"/>
<text x="1268" y="620.1" font-size="60">PBDTFBTA-2Si</text>
</g>
</g>
<g clip-path="url(#ca)"><g transform="rotate(20 652.8 1906.2)"><g filter="url(#fa)"><rect x="123.0" y="1376.5" width="1059.6" height="1059.6" fill="#808080"/><g filter="url(#bl)"><ellipse cx="379" cy="1874" rx="65" ry="130" fill="rgb(87,87,87)" transform="rotate(-20 652.8 1906.2)"/><ellipse cx="392" cy="2101" rx="73" ry="130" fill="rgb(92,92,92)" transform="rotate(-20 652.8 1906.2)"/><ellipse cx="490" cy="2199" rx="98" ry="49" fill="rgb(92,92,92)" transform="rotate(-20 652.8 1906.2)"/><ellipse cx="640" cy="1672" rx="114" ry="49" fill="rgb(97,97,97)" transform="rotate(-20 652.8 1906.2)"/><ellipse cx="757" cy="1796" rx="82" ry="49" fill="rgb(97,97,97)" transform="rotate(-20 652.8 1906.2)"/><ellipse cx="933" cy="1841" rx="65" ry="227" fill="rgb(87,87,87)" transform="rotate(-20 652.8 1906.2)"/><ellipse cx="770" cy="1958" rx="49" ry="73" fill="rgb(97,97,97)" transform="rotate(-20 652.8 1906.2)"/><ellipse cx="848" cy="2101" rx="57" ry="97" fill="rgb(92,92,92)" transform="rotate(-20 652.8 1906.2)"/><ellipse cx="672" cy="2153" rx="57" ry="65" fill="rgb(97,97,97)" transform="rotate(-20 652.8 1906.2)"/><ellipse cx="392" cy="1672" rx="73" ry="65" fill="rgb(159,159,159)" transform="rotate(-20 652.8 1906.2)"/><ellipse cx="561" cy="1906" rx="122" ry="162" fill="rgb(164,164,164)" transform="rotate(-20 652.8 1906.2)"/><ellipse cx="535" cy="2088" rx="82" ry="81" fill="rgb(159,159,159)" transform="rotate(-20 652.8 1906.2)"/><ellipse cx="848" cy="1679" rx="82" ry="73" fill="rgb(159,159,159)" transform="rotate(-20 652.8 1906.2)"/><ellipse cx="692" cy="1958" rx="49" ry="65" fill="rgb(154,154,154)" transform="rotate(-20 652.8 1906.2)"/><ellipse cx="862" cy="1874" rx="49" ry="97" fill="rgb(154,154,154)" transform="rotate(-20 652.8 1906.2)"/><ellipse cx="770" cy="2166" rx="65" ry="57" fill="rgb(154,154,154)" transform="rotate(-20 652.8 1906.2)"/><ellipse cx="953" cy="2166" rx="41" ry="65" fill="rgb(154,154,154)" transform="rotate(-20 652.8 1906.2)"/></g></g></g></g>
<g clip-path="url(#cb)"><g transform="rotate(-25 1332.5 1906.2)"><g filter="url(#fb)"><rect x="803.1" y="1376.8" width="1058.9" height="1058.9" fill="#808080"/><g filter="url(#bl)"><ellipse cx="1111" cy="1711" rx="82" ry="81" fill="rgb(87,87,87)" transform="rotate(25 1332.5 1906.2)"/><ellipse cx="1059" cy="1841" rx="57" ry="65" fill="rgb(97,97,97)" transform="rotate(25 1332.5 1906.2)"/><ellipse cx="1411" cy="1659" rx="98" ry="49" fill="rgb(97,97,97)" transform="rotate(25 1332.5 1906.2)"/><ellipse cx="1574" cy="1679" rx="65" ry="65" fill="rgb(97,97,97)" transform="rotate(25 1332.5 1906.2)"/><ellipse cx="1528" cy="1828" rx="73" ry="65" fill="rgb(87,87,87)" transform="rotate(25 1332.5 1906.2)"/><ellipse cx="1235" cy="1906" rx="65" ry="57" fill="rgb(97,97,97)" transform="rotate(25 1332.5 1906.2)"/><ellipse cx="1332" cy="1984" rx="49" ry="49" fill="rgb(102,102,102)" transform="rotate(25 1332.5 1906.2)"/><ellipse cx="1163" cy="2062" rx="106" ry="81" fill="rgb(87,87,87)" transform="rotate(25 1332.5 1906.2)"/><ellipse cx="1098" cy="2166" rx="65" ry="57" fill="rgb(102,102,102)" transform="rotate(25 1332.5 1906.2)"/><ellipse cx="1372" cy="2134" rx="57" ry="57" fill="rgb(97,97,97)" transform="rotate(25 1332.5 1906.2)"/><ellipse cx="1548" cy="1991" rx="57" ry="57" fill="rgb(97,97,97)" transform="rotate(25 1332.5 1906.2)"/><ellipse cx="1613" cy="2153" rx="57" ry="81" fill="rgb(92,92,92)" transform="rotate(25 1332.5 1906.2)"/><ellipse cx="1215" cy="1711" rx="65" ry="57" fill="rgb(159,159,159)" transform="rotate(25 1332.5 1906.2)"/><ellipse cx="1332" cy="1789" rx="114" ry="81" fill="rgb(164,164,164)" transform="rotate(25 1332.5 1906.2)"/><ellipse cx="1039" cy="1971" rx="41" ry="81" fill="rgb(154,154,154)" transform="rotate(25 1332.5 1906.2)"/><ellipse cx="1417" cy="1906" rx="82" ry="57" fill="rgb(154,154,154)" transform="rotate(25 1332.5 1906.2)"/><ellipse cx="1313" cy="2049" rx="82" ry="49" fill="rgb(159,159,159)" transform="rotate(25 1332.5 1906.2)"/><ellipse cx="1528" cy="2134" rx="65" ry="57" fill="rgb(159,159,159)" transform="rotate(25 1332.5 1906.2)"/><ellipse cx="1235" cy="2186" rx="82" ry="41" fill="rgb(154,154,154)" transform="rotate(25 1332.5 1906.2)"/><ellipse cx="1619" cy="1906" rx="41" ry="81" fill="rgb(154,154,154)" transform="rotate(25 1332.5 1906.2)"/></g></g></g></g>
<g clip-path="url(#cc)"><g transform="rotate(33 2011.0 1906.2)"><g filter="url(#fc)"><rect x="1482.3" y="1377.5" width="1057.4" height="1057.4" fill="#808080"/><g filter="url(#bl)"><ellipse cx="2031" cy="1919" rx="73" ry="97" fill="rgb(102,102,102)" transform="rotate(-33 2011.0 1906.2)"/><ellipse cx="2011" cy="1646" rx="163" ry="41" fill="rgb(113,113,113)" transform="rotate(-33 2011.0 1906.2)"/><ellipse cx="1705" cy="1971" rx="33" ry="81" fill="rgb(113,113,113)" transform="rotate(-33 2011.0 1906.2)"/><ellipse cx="1783" cy="1776" rx="65" ry="65" fill="rgb(143,143,143)" transform="rotate(-33 2011.0 1906.2)"/><ellipse cx="1978" cy="1763" rx="57" ry="49" fill="rgb(143,143,143)" transform="rotate(-33 2011.0 1906.2)"/><ellipse cx="2239" cy="1841" rx="73" ry="65" fill="rgb(143,143,143)" transform="rotate(-33 2011.0 1906.2)"/><ellipse cx="1816" cy="1945" rx="57" ry="49" fill="rgb(143,143,143)" transform="rotate(-33 2011.0 1906.2)"/><ellipse cx="2206" cy="2069" rx="81" ry="65" fill="rgb(141,141,141)" transform="rotate(-33 2011.0 1906.2)"/></g></g></g></g>
<g clip-path="url(#cd)"><g transform="rotate(-30 652.8 2626.0)"><g filter="url(#fd)"><rect x="123.0" y="2096.2" width="1059.6" height="1059.6" fill="#808080"/></g></g></g>
<g clip-path="url(#ce)"><g transform="rotate(-50 1332.5 2626.0)"><g filter="url(#fe)"><rect x="803.1" y="2096.6" width="1058.9" height="1058.9" fill="#808080"/></g></g></g>
<g clip-path="url(#cf)"><g transform="rotate(-40 2011.0 2626.0)"><g filter="url(#ff)"><rect x="1482.3" y="2097.3" width="1057.4" height="1057.4" fill="#808080"/></g></g></g>
<g clip-path="url(#cg)"><g transform="rotate(17 652.8 3346.0)"><g filter="url(#fg)"><rect x="123.0" y="2816.2" width="1059.6" height="1059.6" fill="#808080"/><g filter="url(#bl)"><ellipse cx="568" cy="3229" rx="33" ry="65" fill="rgb(220,220,220)" transform="rotate(-17 652.8 3346.0)"/><ellipse cx="424" cy="3074" rx="106" ry="57" fill="rgb(154,154,154)" transform="rotate(-17 652.8 3346.0)"/><ellipse cx="620" cy="3054" rx="65" ry="40" fill="rgb(148,148,148)" transform="rotate(-17 652.8 3346.0)"/><ellipse cx="881" cy="3119" rx="106" ry="81" fill="rgb(154,154,154)" transform="rotate(-17 652.8 3346.0)"/><ellipse cx="392" cy="3463" rx="73" ry="65" fill="rgb(154,154,154)" transform="rotate(-17 652.8 3346.0)"/><ellipse cx="653" cy="3605" rx="212" ry="57" fill="rgb(151,151,151)" transform="rotate(-17 652.8 3346.0)"/><ellipse cx="881" cy="3424" rx="82" ry="65" fill="rgb(151,151,151)" transform="rotate(-17 652.8 3346.0)"/><ellipse cx="946" cy="3249" rx="41" ry="65" fill="rgb(148,148,148)" transform="rotate(-17 652.8 3346.0)"/><ellipse cx="424" cy="3216" rx="106" ry="81" fill="rgb(90,90,90)" transform="rotate(-17 652.8 3346.0)"/><ellipse cx="607" cy="3346" rx="57" ry="73" fill="rgb(87,87,87)" transform="rotate(-17 652.8 3346.0)"/><ellipse cx="685" cy="3074" rx="41" ry="49" fill="rgb(102,102,102)" transform="rotate(-17 652.8 3346.0)"/><ellipse cx="796" cy="3216" rx="57" ry="57" fill="rgb(97,97,97)" transform="rotate(-17 652.8 3346.0)"/><ellipse cx="503" cy="3450" rx="49" ry="49" fill="rgb(97,97,97)" transform="rotate(-17 652.8 3346.0)"/><ellipse cx="666" cy="3489" rx="57" ry="49" fill="rgb(97,97,97)" transform="rotate(-17 652.8 3346.0)"/><ellipse cx="366" cy="3346" rx="41" ry="65" fill="rgb(102,102,102)" transform="rotate(-17 652.8 3346.0)"/><ellipse cx="927" cy="3586" rx="57" ry="65" fill="rgb(102,102,102)" transform="rotate(-17 652.8 3346.0)"/><ellipse cx="822" cy="3521" rx="57" ry="49" fill="rgb(108,108,108)" transform="rotate(-17 652.8 3346.0)"/><ellipse cx="588" cy="3540" rx="49" ry="40" fill="rgb(102,102,102)" transform="rotate(-17 652.8 3346.0)"/></g><g filter="url(#bs)"><ellipse cx="477" cy="3359" rx="31" ry="34" fill="rgb(255,255,255)" transform="rotate(-17 652.8 3346.0)"/><ellipse cx="594" cy="3450" rx="31" ry="31" fill="rgb(255,255,255)" transform="rotate(-17 652.8 3346.0)"/><ellipse cx="705" cy="3152" rx="28" ry="28" fill="rgb(235,235,235)" transform="rotate(-17 652.8 3346.0)"/><ellipse cx="744" cy="3281" rx="34" ry="28" fill="rgb(220,220,220)" transform="rotate(-17 652.8 3346.0)"/><ellipse cx="901" cy="3327" rx="28" ry="25" fill="rgb(204,204,204)" transform="rotate(-17 652.8 3346.0)"/><ellipse cx="738" cy="3411" rx="22" ry="22" fill="rgb(204,204,204)" transform="rotate(-17 652.8 3346.0)"/></g></g></g></g>
<g clip-path="url(#ch)"><g transform="rotate(-28 1332.5 3346.0)"><g filter="url(#fh)"><rect x="803.1" y="2816.6" width="1058.9" height="1058.9" fill="#808080"/><g filter="url(#bl)"><ellipse cx="1241" cy="3171" rx="49" ry="40" fill="rgb(179,179,179)" transform="rotate(28 1332.5 3346.0)"/><ellipse cx="1372" cy="3087" rx="49" ry="40" fill="rgb(179,179,179)" transform="rotate(28 1332.5 3346.0)"/><ellipse cx="1104" cy="3359" rx="98" ry="81" fill="rgb(151,151,151)" transform="rotate(28 1332.5 3346.0)"/><ellipse cx="1183" cy="3489" rx="57" ry="49" fill="rgb(148,148,148)" transform="rotate(28 1332.5 3346.0)"/><ellipse cx="1463" cy="3378" rx="57" ry="49" fill="rgb(148,148,148)" transform="rotate(28 1332.5 3346.0)"/><ellipse cx="1332" cy="3618" rx="122" ry="40" fill="rgb(148,148,148)" transform="rotate(28 1332.5 3346.0)"/><ellipse cx="1574" cy="3514" rx="57" ry="49" fill="rgb(148,148,148)" transform="rotate(28 1332.5 3346.0)"/><ellipse cx="1613" cy="3314" rx="41" ry="65" fill="rgb(148,148,148)" transform="rotate(28 1332.5 3346.0)"/><ellipse cx="1561" cy="3067" rx="82" ry="40" fill="rgb(148,148,148)" transform="rotate(28 1332.5 3346.0)"/><ellipse cx="1052" cy="3100" rx="49" ry="65" fill="rgb(143,143,143)" transform="rotate(28 1332.5 3346.0)"/><ellipse cx="1170" cy="3100" rx="65" ry="57" fill="rgb(97,97,97)" transform="rotate(28 1332.5 3346.0)"/><ellipse cx="1104" cy="3203" rx="65" ry="49" fill="rgb(102,102,102)" transform="rotate(28 1332.5 3346.0)"/><ellipse cx="1346" cy="3216" rx="98" ry="49" fill="rgb(97,97,97)" transform="rotate(28 1332.5 3346.0)"/><ellipse cx="1476" cy="3126" rx="57" ry="57" fill="rgb(102,102,102)" transform="rotate(28 1332.5 3346.0)"/><ellipse cx="1580" cy="3216" rx="57" ry="65" fill="rgb(97,97,97)" transform="rotate(28 1332.5 3346.0)"/><ellipse cx="1313" cy="3346" rx="45" ry="49" fill="rgb(77,77,77)" transform="rotate(28 1332.5 3346.0)"/><ellipse cx="1235" cy="3476" rx="49" ry="49" fill="rgb(97,97,97)" transform="rotate(28 1332.5 3346.0)"/><ellipse cx="1398" cy="3527" rx="49" ry="40" fill="rgb(102,102,102)" transform="rotate(28 1332.5 3346.0)"/><ellipse cx="1574" cy="3592" rx="49" ry="49" fill="rgb(97,97,97)" transform="rotate(28 1332.5 3346.0)"/><ellipse cx="1626" cy="3463" rx="41" ry="49" fill="rgb(102,102,102)" transform="rotate(28 1332.5 3346.0)"/><ellipse cx="1352" cy="3657" rx="49" ry="24" fill="rgb(102,102,102)" transform="rotate(28 1332.5 3346.0)"/></g><g filter="url(#bs)"><ellipse cx="1378" cy="3443" rx="28" ry="28" fill="rgb(255,255,255)" transform="rotate(28 1332.5 3346.0)"/><ellipse cx="1267" cy="3307" rx="25" ry="25" fill="rgb(166,166,166)" transform="rotate(28 1332.5 3346.0)"/><ellipse cx="1528" cy="3476" rx="31" ry="31" fill="rgb(166,166,166)" transform="rotate(28 1332.5 3346.0)"/><ellipse cx="1306" cy="3573" rx="31" ry="31" fill="rgb(169,169,169)" transform="rotate(28 1332.5 3346.0)"/><ellipse cx="1091" cy="3327" rx="31" ry="31" fill="rgb(166,166,166)" transform="rotate(28 1332.5 3346.0)"/><ellipse cx="1378" cy="3378" rx="31" ry="25" fill="rgb(102,102,102)" transform="rotate(28 1332.5 3346.0)"/><ellipse cx="1450" cy="3443" rx="31" ry="31" fill="rgb(92,92,92)" transform="rotate(28 1332.5 3346.0)"/><ellipse cx="1515" cy="3346" rx="31" ry="31" fill="rgb(102,102,102)" transform="rotate(28 1332.5 3346.0)"/></g></g></g></g>
<g clip-path="url(#ci)"><g transform="rotate(40 2005.2 3346.0)"><g filter="url(#fi)"><rect x="1476.9" y="2817.6" width="1056.7" height="1056.7" fill="#808080"/><g filter="url(#bl)"><ellipse cx="1875" cy="3391" rx="49" ry="49" fill="rgb(174,174,174)" transform="rotate(-40 2005.2 3346.0)"/><ellipse cx="1745" cy="3236" rx="49" ry="49" fill="rgb(159,159,159)" transform="rotate(-40 2005.2 3346.0)"/><ellipse cx="2233" cy="3476" rx="49" ry="49" fill="rgb(169,169,169)" transform="rotate(-40 2005.2 3346.0)"/><ellipse cx="2200" cy="3184" rx="49" ry="40" fill="rgb(159,159,159)" transform="rotate(-40 2005.2 3346.0)"/><ellipse cx="2038" cy="3560" rx="57" ry="40" fill="rgb(159,159,159)" transform="rotate(-40 2005.2 3346.0)"/><ellipse cx="1973" cy="3625" rx="49" ry="32" fill="rgb(154,154,154)" transform="rotate(-40 2005.2 3346.0)"/><ellipse cx="1875" cy="3087" rx="57" ry="40" fill="rgb(154,154,154)" transform="rotate(-40 2005.2 3346.0)"/><ellipse cx="2109" cy="3411" rx="57" ry="40" fill="rgb(154,154,154)" transform="rotate(-40 2005.2 3346.0)"/><ellipse cx="1843" cy="3216" rx="73" ry="73" fill="rgb(92,92,92)" transform="rotate(-40 2005.2 3346.0)"/><ellipse cx="1973" cy="3424" rx="57" ry="57" fill="rgb(87,87,87)" transform="rotate(-40 2005.2 3346.0)"/><ellipse cx="1745" cy="3378" rx="49" ry="57" fill="rgb(102,102,102)" transform="rotate(-40 2005.2 3346.0)"/><ellipse cx="2213" cy="3294" rx="57" ry="49" fill="rgb(102,102,102)" transform="rotate(-40 2005.2 3346.0)"/><ellipse cx="2038" cy="3184" rx="41" ry="49" fill="rgb(108,108,108)" transform="rotate(-40 2005.2 3346.0)"/><ellipse cx="2135" cy="3508" rx="49" ry="49" fill="rgb(102,102,102)" transform="rotate(-40 2005.2 3346.0)"/><ellipse cx="1778" cy="3573" rx="57" ry="49" fill="rgb(108,108,108)" transform="rotate(-40 2005.2 3346.0)"/><ellipse cx="2265" cy="3605" rx="49" ry="49" fill="rgb(102,102,102)" transform="rotate(-40 2005.2 3346.0)"/><ellipse cx="2038" cy="3054" rx="57" ry="32" fill="rgb(108,108,108)" transform="rotate(-40 2005.2 3346.0)"/><ellipse cx="1732" cy="3119" rx="41" ry="49" fill="rgb(108,108,108)" transform="rotate(-40 2005.2 3346.0)"/></g><g filter="url(#bs)"><ellipse cx="1960" cy="3281" rx="31" ry="31" fill="rgb(179,179,179)" transform="rotate(-40 2005.2 3346.0)"/><ellipse cx="2103" cy="3281" rx="31" ry="31" fill="rgb(159,159,159)" transform="rotate(-40 2005.2 3346.0)"/><ellipse cx="1908" cy="3508" rx="31" ry="31" fill="rgb(159,159,159)" transform="rotate(-40 2005.2 3346.0)"/><ellipse cx="2122" cy="3165" rx="31" ry="31" fill="rgb(154,154,154)" transform="rotate(-40 2005.2 3346.0)"/></g></g></g></g>
<g font-family="Liberation Sans, Arial, sans-serif" font-size="38" fill="#333">
<path d="M327.5 2242.0 v-5 H978.0 v5" stroke="#ddd" stroke-width="2" fill="none"/>
<text x="327.5" y="2277.0">0.0</text><text x="652.8" y="2277.0" text-anchor="middle">Height</text><text x="977.0" y="2277.0" text-anchor="end">2.0 um</text>
<path d="M1007.5 2242.0 v-5 H1657.5 v5" stroke="#ddd" stroke-width="2" fill="none"/>
<text x="1007.5" y="2277.0">0.0</text><text x="1332.5" y="2277.0" text-anchor="middle">Height</text><text x="1656.5" y="2277.0" text-anchor="end">2.0 um</text>
<path d="M1686.5 2242.0 v-5 H2335.5 v5" stroke="#ddd" stroke-width="2" fill="none"/>
<text x="1686.5" y="2277.0">0.0</text><text x="2011.0" y="2277.0" text-anchor="middle">Height</text><text x="2334.5" y="2277.0" text-anchor="end">2.0 um</text>
<path d="M327.5 2960.5 v-5 H978.0 v5" stroke="#ddd" stroke-width="2" fill="none"/>
<text x="327.5" y="2995.5">0.0</text><text x="652.8" y="2995.5" text-anchor="middle">Tapping Phase</text><text x="977.0" y="2995.5" text-anchor="end">2.0 um</text>
<path d="M1007.5 2960.5 v-5 H1657.5 v5" stroke="#ddd" stroke-width="2" fill="none"/>
<text x="1007.5" y="2995.5">0.0</text><text x="1332.5" y="2995.5" text-anchor="middle">Tapping Phase</text><text x="1656.5" y="2995.5" text-anchor="end">2.0 um</text>
<path d="M1686.5 2960.5 v-5 H2335.5 v5" stroke="#ddd" stroke-width="2" fill="none"/>
<text x="1686.5" y="2995.5">0.0</text><text x="2011.0" y="2995.5" text-anchor="middle">Tapping Phase</text><text x="2334.5" y="2995.5" text-anchor="end">2.0 um</text>
</g>
<g font-family="Liberation Sans, Arial, sans-serif" font-weight="bold" fill="#fff" filter="url(#tb)">
<text x="332" y="1640" font-size="59">(a)</text>
<text x="1024" y="1639" font-size="54">(b)</text>
<text x="1707.5" y="1640" font-size="54">(c)</text>
<text x="337" y="2362" font-size="57">(d)</text>
<text x="1019.5" y="2362" font-size="57">(e)</text>
<text x="1695" y="2362" font-size="57">(f)</text>
<text x="341" y="3108" font-size="57">(g)</text>
<text x="1021" y="3108" font-size="57">(h)</text>
<text x="1702" y="3108" font-size="57">(i)</text>
<text x="455.5" y="1649" font-size="53">PBDTFBTA-2T:Y6</text>
<text x="1149.5" y="1649" font-size="53">PBDTFBTA-TSi:Y6</text>
<text x="1828" y="1649" font-size="53">PBDTFBTA-2Si:Y6</text>
</g>
<g font-family="Liberation Sans, Arial, sans-serif" font-size="28" fill="#fff" fill-opacity="0.5" filter="url(#tb2)">
<text x="341.0" y="3050">PFM</text><text x="971.0" y="3050" text-anchor="end">1291 1/cm</text>
<text x="429.0" y="3627" text-anchor="middle">100 nm</text><path d="M360.0 3637.5 h134 m-134 -6 v12 m134 -12 v12" stroke="#fff" stroke-width="3" stroke-opacity="0.7" fill="none"/>
<text x="1022.0" y="3050">PFM</text><text x="1650.5" y="3050" text-anchor="end">1291 1/cm</text>
<text x="1110.0" y="3627" text-anchor="middle">100 nm</text><path d="M1041.0 3637.5 h134 m-134 -6 v12 m134 -12 v12" stroke="#fff" stroke-width="3" stroke-opacity="0.7" fill="none"/>
<text x="1694.0" y="3050">PFM</text><text x="2322.5" y="3050" text-anchor="end">1291 1/cm</text>
<text x="1782.0" y="3627" text-anchor="middle">100 nm</text><path d="M1713.0 3637.5 h134 m-134 -6 v12 m134 -12 v12" stroke="#fff" stroke-width="3" stroke-opacity="0.7" fill="none"/>
</g>
<g filter="url(#cbb)">
<rect x="2396" y="1641.5" width="38" height="531.5" fill="url(#g1)"/>
<rect x="2396" y="2356" width="38" height="534" fill="url(#g1)"/>
<rect x="2379.5" y="3144" width="65" height="425" fill="url(#g3)"/>
</g>
<g font-family="Liberation Sans, Arial, sans-serif" font-weight="bold" font-size="38" fill="#1c1c1c">
<text x="2363" y="1621">10nm</text><text x="2361" y="2213.5">-10nm</text>
<text x="2379" y="2337">10<tspan dy="-17">o</tspan></text><text x="2375" y="2931">-10<tspan dy="-17">o</tspan></text>
</g>
<g font-family="Liberation Sans, Arial, sans-serif" font-size="28.5" fill="#666"><text x="2380" y="3121">325 µV</text><text x="2382" y="3595">120 µV</text></g>
</svg>
</body></html>
